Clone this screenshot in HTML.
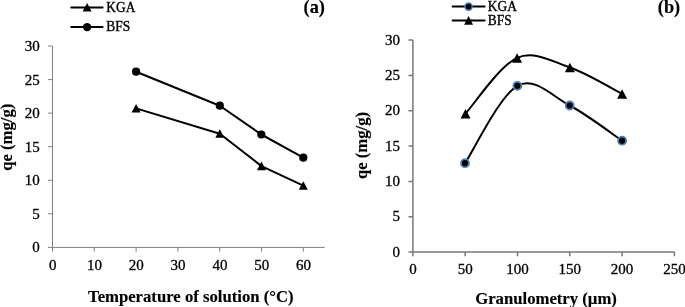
<!DOCTYPE html>
<html><head><meta charset="utf-8"><title>qe charts</title>
<style>
html,body{margin:0;padding:0;background:#fff;overflow:hidden}
svg{display:block;will-change:transform;font-family:"Liberation Serif","Times New Roman",serif;fill:#000}
.ax{stroke:#808080;stroke-width:1;fill:none}
.ln{stroke:#000;stroke-width:2;fill:none;stroke-linejoin:round;stroke-linecap:round}
.t{font-size:15px;stroke:#000;stroke-width:.3px}
.lg{font-size:13.4px;stroke:#000;stroke-width:.35px}
.b{font-weight:bold;font-size:16.7px;stroke:#000;stroke-width:.15px}
.bl{stroke:#4f81bd;stroke-width:1.8}
</style></head><body>
<svg width="685" height="307" viewBox="0 0 685 307">
<rect width="685" height="307" fill="#fff"/>

<!-- left chart (a) -->
<g class="ax">
<path d="M52.5 46.0V247.4H324.7"/>
<path d="M48 247.4H52.5M48 213.8H52.5M48 180.3H52.5M48 146.7H52.5M48 113.1H52.5M48 79.6H52.5M48 46.0H52.5"/>
<path d="M52.5 247.4V251.7M94.3 247.4V251.7M136.1 247.4V251.7M177.9 247.4V251.7M219.7 247.4V251.7M261.5 247.4V251.7M303.3 247.4V251.7"/>
</g>
<g class="t" text-anchor="end"><text x="39.7" y="252.3">0</text><text x="39.7" y="218.7">5</text><text x="39.7" y="185.2">10</text><text x="39.7" y="151.6">15</text><text x="39.7" y="118.0">20</text><text x="39.7" y="84.5">25</text><text x="39.7" y="50.9">30</text></g>
<g class="t" text-anchor="middle"><text x="52.7" y="269.7">0</text><text x="94.5" y="269.7">10</text><text x="136.3" y="269.7">20</text><text x="178.1" y="269.7">30</text><text x="219.9" y="269.7">40</text><text x="261.7" y="269.7">50</text><text x="303.5" y="269.7">60</text></g>
<path class="ln" d="M136.1 71.7L219.8 105.7L261.3 134.5L303.3 157.7"/>
<path class="ln" d="M136.1 108.4L219.8 133.7L261.5 166.1L303.3 185.7"/>
<g><circle cx="136.1" cy="71.7" r="4.1"/><circle cx="219.8" cy="105.7" r="4.1"/><circle cx="261.3" cy="134.5" r="4.1"/><circle cx="303.3" cy="157.7" r="4.1"/></g>
<g><path d="M136.1 103.9l4.50 8.6h-9.0z"/><path d="M219.8 129.2l4.50 8.6h-9.0z"/><path d="M261.5 161.6l4.50 8.6h-9.0z"/><path d="M303.3 181.2l4.50 8.6h-9.0z"/></g>
<path class="ln" d="M71.2 7.4H102.6M71.2 27.1H102.6"/>
<path d="M87.1 2.9l4.50 8.6h-9.0z"/><circle cx="87.1" cy="27.1" r="4.2"/>
<text class="lg" transform="translate(106.3 11.7) scale(1 1.1)">KGA</text><text class="lg" transform="translate(106.3 31.3) scale(1 1.1)">BFS</text>
<text class="b" style="font-size:18.3px" x="303.6" y="12.9">(a)</text>
<text class="b" transform="translate(11.5 137.2) rotate(-90)" text-anchor="middle">qe (mg/g)</text>
<text class="b" x="190.8" y="302" text-anchor="middle">Temperature of solution (°C)</text>
<!-- right chart (b) -->
<g class="ax" style="stroke:#787878;stroke-width:1.5">
<path d="M412.9 40.1V252.0H674.4"/>
<path d="M408.5 252.0H412.9M408.5 216.7H412.9M408.5 181.4H412.9M408.5 146.0H412.9M408.5 110.7H412.9M408.5 75.4H412.9M408.5 40.1H412.9"/>
<path d="M412.9 252.0V256.3M465.2 252.0V256.3M517.5 252.0V256.3M569.8 252.0V256.3M622.1 252.0V256.3M674.4 252.0V256.3"/>
</g>
<g class="t" text-anchor="end"><text x="400.1" y="256.6">0</text><text x="400.1" y="221.3">5</text><text x="400.1" y="186.0">10</text><text x="400.1" y="150.6">15</text><text x="400.1" y="115.3">20</text><text x="400.1" y="80.0">25</text><text x="400.1" y="44.7">30</text></g>
<g class="t" text-anchor="middle"><text x="412.9" y="274.4">0</text><text x="465.2" y="274.4">50</text><text x="517.5" y="274.4">100</text><text x="569.8" y="274.4">150</text><text x="622.1" y="274.4">200</text><text x="674.4" y="274.4">250</text></g>
<path class="ln" d="M465.5 113.6C474.1 104.3 499.7 65.6 517.1 57.9C534.5 50.2 552.4 61.5 569.9 67.5C587.4 73.5 613.4 89.5 622.1 93.9"/>
<path class="ln" d="M465.0 163.2C473.7 150.3 499.9 95.4 517.4 85.8C534.9 76.2 552.2 96.3 569.7 105.5C587.2 114.7 613.4 134.8 622.1 140.7"/>
<g><path d="M465.5 108.9l5.00 9.5h-10.0z"/><path d="M517.1 53.2l5.00 9.5h-10.0z"/><path d="M569.9 62.8l5.00 9.5h-10.0z"/><path d="M622.1 89.2l5.00 9.5h-10.0z"/></g>
<g class="bl"><circle cx="465.0" cy="163.2" r="4"/><circle cx="517.4" cy="85.8" r="4"/><circle cx="569.7" cy="105.5" r="4"/><circle cx="622.1" cy="140.7" r="4"/></g>
<path class="ln" d="M452.6 6.6H484.6M452.6 20.6H484.6"/>
<g class="bl" style="stroke-width:1.5"><circle cx="468.6" cy="6.6" r="3.6"/></g><path d="M468.6 16.1l4.50 8.6h-9.0z"/>
<text class="lg" transform="translate(487.8 11) scale(1 1.1)">KGA</text><text class="lg" transform="translate(487.8 24.6) scale(1 1.1)">BFS</text>
<text class="b" style="font-size:18.3px" x="657.8" y="12.7">(b)</text>
<text class="b" transform="translate(366.7 145.5) rotate(-90)" text-anchor="middle">qe (mg/g)</text>
<text class="b" x="546.1" y="303.6" text-anchor="middle">Granulometry (µm)</text>
</svg>
</body></html>
